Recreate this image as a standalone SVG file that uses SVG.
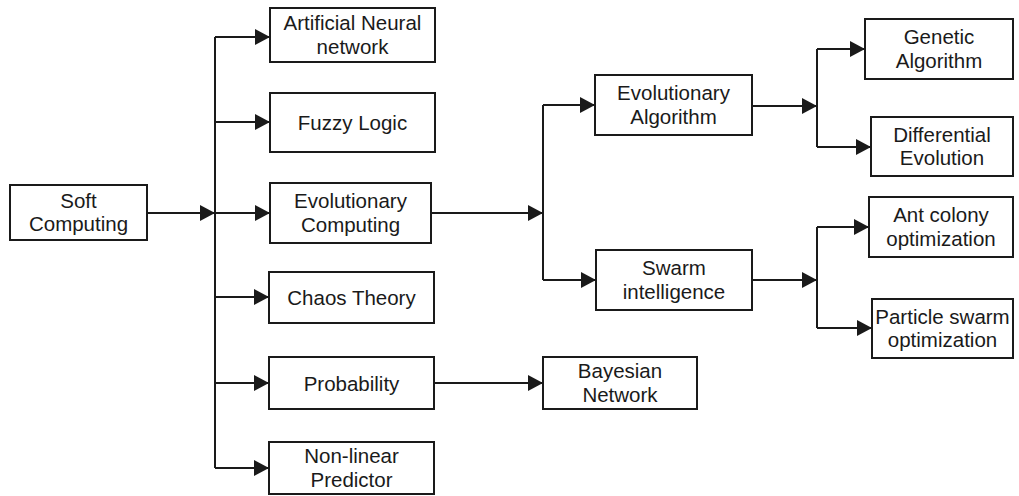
<svg xmlns="http://www.w3.org/2000/svg" width="1019" height="496" viewBox="0 0 1019 496">
<style>
.box{fill:#fff;stroke:#1a1a1a;stroke-width:2}
.t{font-family:"Liberation Sans",Arial,sans-serif;font-size:20.5px;fill:#1a1a1a;text-anchor:middle}
.c{fill:none;stroke:#1a1a1a;stroke-width:2}
</style>
<defs>
<marker id="ah" markerUnits="userSpaceOnUse" markerWidth="16" markerHeight="16" refX="15" refY="8" orient="auto">
<path d="M0,0 L15,8 L0,16 z" fill="#1a1a1a"/>
</marker>
</defs>
<rect width="1019" height="496" fill="#fff"/>
<g id="connectors">
<line class="c" x1="147" y1="213" x2="215" y2="213" marker-end="url(#ah)"/>
<line class="c" x1="215" y1="37" x2="215" y2="468"/>
<line class="c" x1="215" y1="37" x2="270" y2="37" marker-end="url(#ah)"/>
<line class="c" x1="215" y1="122" x2="270" y2="122" marker-end="url(#ah)"/>
<line class="c" x1="215" y1="213" x2="270" y2="213" marker-end="url(#ah)"/>
<line class="c" x1="215" y1="297" x2="269" y2="297" marker-end="url(#ah)"/>
<line class="c" x1="215" y1="383" x2="269" y2="383" marker-end="url(#ah)"/>
<line class="c" x1="215" y1="468" x2="269" y2="468" marker-end="url(#ah)"/>
<line class="c" x1="431" y1="213" x2="543" y2="213" marker-end="url(#ah)"/>
<line class="c" x1="543" y1="105" x2="543" y2="280"/>
<line class="c" x1="543" y1="105" x2="595" y2="105" marker-end="url(#ah)"/>
<line class="c" x1="543" y1="280" x2="596" y2="280" marker-end="url(#ah)"/>
<line class="c" x1="752" y1="106" x2="817" y2="106" marker-end="url(#ah)"/>
<line class="c" x1="817" y1="49" x2="817" y2="147"/>
<line class="c" x1="817" y1="49" x2="865" y2="49" marker-end="url(#ah)"/>
<line class="c" x1="817" y1="147" x2="871" y2="147" marker-end="url(#ah)"/>
<line class="c" x1="752" y1="280" x2="817" y2="280" marker-end="url(#ah)"/>
<line class="c" x1="817" y1="227" x2="817" y2="328"/>
<line class="c" x1="817" y1="227" x2="869" y2="227" marker-end="url(#ah)"/>
<line class="c" x1="817" y1="328" x2="872" y2="328" marker-end="url(#ah)"/>
<line class="c" x1="434" y1="383" x2="543" y2="383" marker-end="url(#ah)"/>
</g>
<g id="soft"><rect class="box" x="10" y="185" width="137" height="55"/><text class="t" x="78.5" y="207.5">Soft</text><text class="t" x="78.5" y="231">Computing</text></g>
<g id="ann"><rect class="box" x="270" y="8" width="165" height="54"/><text class="t" x="352.5" y="30">Artificial Neural</text><text class="t" x="352.5" y="53.5">network</text></g>
<g id="fuzzy"><rect class="box" x="270" y="93" width="165" height="59"/><text class="t" x="352.5" y="129.5">Fuzzy Logic</text></g>
<g id="ec"><rect class="box" x="270" y="183" width="161" height="60"/><text class="t" x="350.5" y="208">Evolutionary</text><text class="t" x="350.5" y="231.5">Computing</text></g>
<g id="chaos"><rect class="box" x="269" y="272" width="165" height="51"/><text class="t" x="351.5" y="304.5">Chaos Theory</text></g>
<g id="prob"><rect class="box" x="269" y="357" width="165" height="52"/><text class="t" x="351.5" y="390.5">Probability</text></g>
<g id="nonlinear"><rect class="box" x="269" y="442" width="165" height="52"/><text class="t" x="351.5" y="463">Non-linear</text><text class="t" x="351.5" y="486.5">Predictor</text></g>
<g id="bayes"><rect class="box" x="543" y="357" width="154" height="52"/><text class="t" x="620" y="378">Bayesian</text><text class="t" x="620" y="401.5">Network</text></g>
<g id="ea"><rect class="box" x="595" y="75" width="157" height="60"/><text class="t" x="673.5" y="100">Evolutionary</text><text class="t" x="673.5" y="123.5">Algorithm</text></g>
<g id="swarm"><rect class="box" x="596" y="250" width="156" height="60"/><text class="t" x="674" y="275">Swarm</text><text class="t" x="674" y="298.5">intelligence</text></g>
<g id="ga"><rect class="box" x="865" y="19" width="148" height="60"/><text class="t" x="939" y="44">Genetic</text><text class="t" x="939" y="67.5">Algorithm</text></g>
<g id="de"><rect class="box" x="871" y="117" width="142" height="59"/><text class="t" x="942" y="141.5">Differential</text><text class="t" x="942" y="165">Evolution</text></g>
<g id="aco"><rect class="box" x="869" y="197" width="144" height="60"/><text class="t" x="941" y="222">Ant colony</text><text class="t" x="941" y="245.5">optimization</text></g>
<g id="pso"><rect class="box" x="872" y="299" width="141" height="59"/><text class="t" x="942.5" y="323.5">Particle swarm</text><text class="t" x="942.5" y="347">optimization</text></g>
</svg>
